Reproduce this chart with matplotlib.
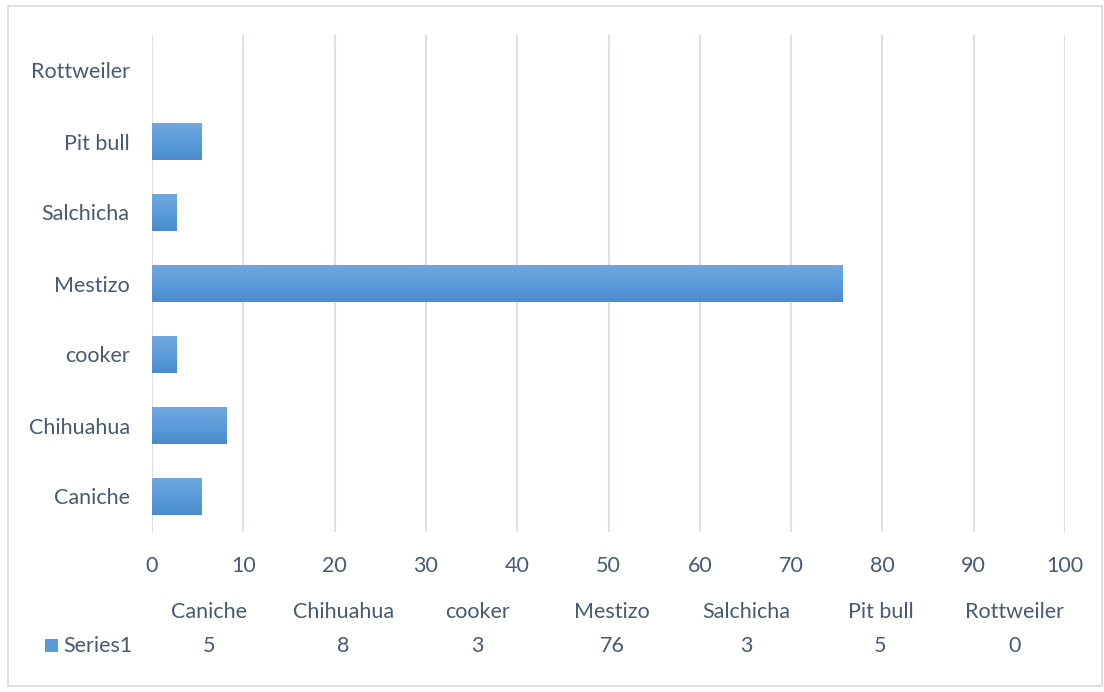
import matplotlib.pyplot as plt
import numpy as np
from matplotlib.colors import LinearSegmentedColormap
from matplotlib.patches import Rectangle

# breed shares (percent of 37 dogs)
breeds = ['Caniche', 'Chihuahua', 'cooker', 'Mestizo', 'Salchicha', 'Pit bull', 'Rottweiler']
percent = [5.41, 8.11, 2.70, 75.68, 2.70, 5.41, 0.0]
series_name = 'Series1'

txt = '#475A70'
grid = '#DCE1E7'
fs = 15.5
plt.rcParams['font.family'] = ['Lato', 'DejaVu Sans']

fig = plt.figure(figsize=(11.04, 6.92), dpi=100)
W, H = 1104, 692
ax = fig.add_axes([152 / W, 1 - 532 / H, 913 / W, (532 - 35) / H])

# bars with a light-to-dark vertical gradient
grad = LinearSegmentedColormap.from_list('bar', ['#4A8BCB', '#5B9CDD', '#72A7DD'])
ypos = np.arange(len(breeds))
bars = ax.barh(ypos, percent, height=0.52, color='none', edgecolor='none', zorder=3)
for b in bars:
    x0, y0 = b.get_x(), b.get_y()
    w, h = b.get_width(), b.get_height()
    if w <= 0:
        continue
    im = ax.imshow(np.linspace(0, 1, 64).reshape(-1, 1), cmap=grad, aspect='auto',
                   extent=(x0, x0 + w, y0, y0 + h), origin='lower', zorder=3)
    im.set_clip_path(b)

ax.set_xlim(0, 100)
ax.set_ylim(-0.5, len(breeds) - 0.5)
ax.set_xticks(np.arange(0, 101, 10))
ax.set_yticks(ypos)
ax.set_yticklabels(breeds)
ax.grid(axis='x', color=grid, linewidth=1.5, zorder=0)
for s in ax.spines.values():
    s.set_visible(False)
ax.tick_params(length=0, labelsize=fs, colors=txt)
ax.tick_params(axis='x', pad=17)
ax.tick_params(axis='y', pad=16)

# data table under the axis
col_w = 134.3
for i, (name, v) in enumerate(zip(breeds, percent)):
    cx = (209 + i * col_w) / W
    fig.text(cx, 1 - 612 / H, name, ha='center', va='center', fontsize=fs, color=txt)
    fig.text(cx, 1 - 646 / H, f'{v:.0f}', ha='center', va='center', fontsize=fs, color=txt)

fig.patches.append(Rectangle((45 / W, 1 - 652 / H), 13 / W, 13 / H, transform=fig.transFigure,
                             facecolor='#5B9BD5', edgecolor='none'))
fig.text(63 / W, 1 - 646 / H, series_name, ha='left', va='center', fontsize=fs, color=txt)

# chart border
fig.patches.append(Rectangle((8 / W, 6 / H), 1 - 10 / W, 1 - 12 / H, transform=fig.transFigure,
                             facecolor='none', edgecolor='#D9D9D9', linewidth=1.2))

fig.savefig('out.png', dpi=100)
